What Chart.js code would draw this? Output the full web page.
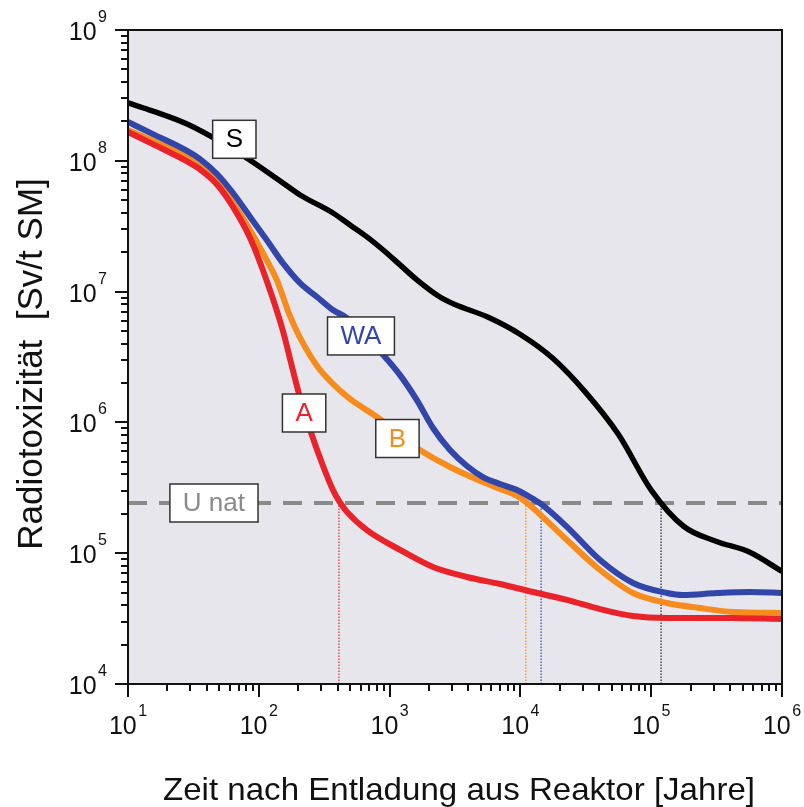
<!DOCTYPE html>
<html>
<head>
<meta charset="utf-8">
<script src="https://cdn.jsdelivr.net/npm/chart.js@4/dist/chart.umd.min.js"></script>
<style>
  html, body { margin: 0; padding: 0; background: #fff; }
</style>
</head>
<body>
<canvas id="chart" width="804" height="807"></canvas>
<script>
// Radiotoxizität abgebrannter Brennelemente (Sv/t SM) über die Zeit (Jahre)
const yearsS = [10, 15.5, 28.3, 56.2, 85.8, 153, 207, 369, 498, 671, 893, 1202, 1617, 2427, 3162, 5623, 10000, 17780, 31620, 56230, 100000, 177800, 316200, 562300, 1e6];
const toxS   = [2.77e8, 2.40e8, 1.91e8, 1.32e8, 1.01e8, 6.77e7, 5.48e7, 3.99e7, 3.23e7, 2.62e7, 2.08e7, 1.60e7, 1.23e7, 9.09e6, 7.96e6, 6.39e6, 4.70e6, 3.08e6, 1.69e6, 8.08e5, 3.04e5, 1.60e5, 1.23e5, 1.02e5, 7.25e4];

const yearsWA = [10, 15.5, 28.3, 35.5, 47.9, 63.5, 85.8, 115, 153, 207, 279, 369, 472, 893, 1202, 1617, 2147, 2895, 3904, 5178, 6983, 9416, 12480, 14360, 22700, 40640, 72610, 132100, 175000, 318000, 569000, 1e6];
const toxWA   = [1.98e8, 1.60e8, 1.19e8, 1.03e8, 7.93e7, 5.67e7, 3.72e7, 2.48e7, 1.65e7, 1.16e7, 9.09e6, 7.23e6, 6.28e6, 3.28e6, 2.30e6, 1.48e6, 9.06e5, 6.15e5, 4.64e5, 3.82e5, 3.38e5, 3.04e5, 2.60e5, 2.38e5, 1.59e5, 8.87e4, 5.92e4, 4.96e4, 4.79e4, 4.96e4, 5.05e4, 4.96e4];

const yearsB = [10, 15.5, 28.3, 35.5, 47.9, 63.5, 85.8, 115, 138, 173, 207, 279, 369, 498, 801, 1617, 2895, 5178, 6983, 9416, 11050, 22700, 40640, 72610, 132100, 236000, 421700, 1e6];
const toxB   = [1.72e8, 1.42e8, 1.07e8, 9.0e7, 7.0e7, 4.76e7, 2.96e7, 1.74e7, 1.21e7, 6.51e6, 4.42e6, 2.70e6, 1.97e6, 1.51e6, 1.10e6, 6.37e5, 4.56e5, 3.50e5, 3.10e5, 2.74e5, 2.46e5, 1.26e5, 7.44e4, 4.96e4, 4.16e4, 3.81e4, 3.55e4, 3.49e4];

const yearsA = [10, 15.5, 28.3, 35.5, 47.9, 63.5, 85.8, 115, 153, 182, 207, 247, 310, 369, 410, 472, 671, 1202, 2147, 3904, 6983, 12480, 22700, 40640, 72610, 132100, 421700, 1e6];
const toxA   = [1.66e8, 1.34e8, 9.9e7, 8.6e7, 6.6e7, 4.45e7, 2.57e7, 1.21e7, 5.00e6, 2.52e6, 1.54e6, 8.75e5, 4.64e5, 3.04e5, 2.51e5, 2.07e5, 1.50e5, 1.06e5, 7.84e4, 6.58e4, 5.81e4, 5.05e4, 4.39e4, 3.74e4, 3.31e4, 3.20e4, 3.20e4, 3.14e4];

// natürliches Uran als Referenzniveau und die Zeitpunkte, an denen es erreicht wird
const uNat = 2.42e5;
const crossA = 410, crossB = 11000, crossWA = 14400, crossS = 119000;

const xExponents = [1, 2, 3, 4, 5, 6];
const yExponents = [4, 5, 6, 7, 8, 9];

const FONT = '"Liberation Sans", Arial, Helvetica, sans-serif';
const RED = '#e9232a', ORANGE = '#f78c1e', BLUE = '#3246aa', GREY = '#8a8a8a';

function pts(xs, ys) {
  return xs.map((x, i) => ({ x: x, y: ys[i] }));
}

function curve(xs, ys, color, width) {
  return {
    data: pts(xs, ys),
    borderColor: color,
    borderWidth: width,
    pointRadius: 0,
    cubicInterpolationMode: 'monotone',
    borderCapStyle: 'butt',
    borderJoinStyle: 'round',
    fill: false
  };
}

function marker(year, color) {
  return {
    data: [{ x: year, y: 1e4 }, { x: year, y: uNat }],
    borderColor: color,
    borderWidth: 1.2,
    borderDash: [1.5, 1.5],
    pointRadius: 0,
    fill: false
  };
}

function drawPower(ctx, exp, x, y, align) {
  ctx.save();
  ctx.fillStyle = '#111';
  ctx.textBaseline = 'alphabetic';
  ctx.textAlign = 'left';
  ctx.font = '25px ' + FONT;
  const wBase = ctx.measureText('10').width;
  ctx.font = '16px ' + FONT;
  const wExp = ctx.measureText(String(exp)).width;
  const total = wBase + 1.5 + wExp;
  const left = align === 'center' ? x - total / 2 : x - total;
  ctx.font = '25px ' + FONT;
  ctx.fillText('10', left, y);
  ctx.font = '16px ' + FONT;
  ctx.fillText(String(exp), left + wBase + 1.5, y - 18);
  ctx.restore();
}

function drawBox(ctx, chart, text, xv, yv, color) {
  const sx = chart.scales.x, sy = chart.scales.y;
  const cx = sx.getPixelForValue(xv), cy = sy.getPixelForValue(yv);
  ctx.save();
  ctx.font = '26px ' + FONT;
  const w = ctx.measureText(text).width + 26;
  const h = 38;
  ctx.fillStyle = '#fff';
  ctx.fillRect(cx - w / 2, cy - h / 2, w, h);
  ctx.strokeStyle = '#333';
  ctx.lineWidth = 1.5;
  ctx.strokeRect(cx - w / 2, cy - h / 2, w, h);
  ctx.fillStyle = color;
  ctx.textAlign = 'center';
  ctx.textBaseline = 'middle';
  ctx.fillText(text, cx, cy + 1);
  ctx.restore();
}

const decor = {
  id: 'decor',
  beforeDraw(chart) {
    const { ctx, chartArea: a } = chart;
    ctx.save();
    ctx.fillStyle = '#fff';
    ctx.fillRect(0, 0, chart.width, chart.height);
    ctx.fillStyle = '#e6e6ec';
    ctx.fillRect(a.left, a.top, a.right - a.left, a.bottom - a.top);
    ctx.restore();
  },
  afterDatasetsDraw(chart) {
    const ctx = chart.ctx;
    drawBox(ctx, chart, 'S', 65, 1.46e8, '#000');
    drawBox(ctx, chart, 'WA', 604, 4.58e6, BLUE);
    drawBox(ctx, chart, 'A', 222, 1.18e6, RED);
    drawBox(ctx, chart, 'B', 1148, 7.53e5, ORANGE);
    drawBox(ctx, chart, 'U nat', 45.4, uNat, GREY);
  },
  afterDraw(chart) {
    const { ctx, chartArea: a } = chart;
    const sx = chart.scales.x, sy = chart.scales.y;
    ctx.save();
    // frame
    ctx.strokeStyle = '#111';
    ctx.lineWidth = 2;
    ctx.strokeRect(a.left, a.top, a.right - a.left, a.bottom - a.top);

    // ticks, long at the decades
    ctx.beginPath();
    for (let e = xExponents[0]; e <= xExponents[xExponents.length - 1]; e++) {
      for (let m = 1; m <= 9; m++) {
        if (e === xExponents[xExponents.length - 1] && m > 1) break;
        const px = Math.round(sx.getPixelForValue(m * Math.pow(10, e)));
        ctx.moveTo(px, a.bottom);
        ctx.lineTo(px, a.bottom + (m === 1 ? 13 : 7));
      }
    }
    for (let e = yExponents[0]; e <= yExponents[yExponents.length - 1]; e++) {
      for (let m = 1; m <= 9; m++) {
        if (e === yExponents[yExponents.length - 1] && m > 1) break;
        const py = Math.round(sy.getPixelForValue(m * Math.pow(10, e)));
        ctx.moveTo(a.left, py);
        ctx.lineTo(a.left - (m === 1 ? 13 : 7), py);
      }
    }
    ctx.stroke();

    // tick labels
    xExponents.forEach(e => drawPower(ctx, e, sx.getPixelForValue(Math.pow(10, e)), a.bottom + 50, 'center'));
    yExponents.forEach(e => drawPower(ctx, e, a.left - 21, sy.getPixelForValue(Math.pow(10, e)) + 10, 'right'));

    // axis titles
    ctx.fillStyle = '#111';
    ctx.textBaseline = 'alphabetic';
    ctx.textAlign = 'center';
    ctx.font = '32px ' + FONT;
    const xt = 'Zeit nach Entladung aus Reaktor [Jahre]';
    const xs = 592 / ctx.measureText(xt).width;
    ctx.save();
    ctx.translate(459, 800);
    ctx.scale(xs, 1);
    ctx.fillText(xt, 0, 0);
    ctx.restore();

    ctx.font = '35px ' + FONT;
    const yt = 'Radiotoxizität  [Sv/t SM]';
    ctx.save();
    ctx.translate(42, 364);
    ctx.rotate(-Math.PI / 2);
    ctx.fillText(yt, 0, 0);
    ctx.restore();
    ctx.restore();
  }
};

new Chart(document.getElementById('chart'), {
  type: 'line',
  data: {
    datasets: [
      curve(yearsS, toxS, '#000', 5.5),
      curve(yearsWA, toxWA, BLUE, 6),
      curve(yearsA, toxA, RED, 6),
      curve(yearsB, toxB, ORANGE, 6),
      {
        data: [{ x: 10, y: uNat }, { x: 1e6, y: uNat }],
        borderColor: GREY,
        borderWidth: 4,
        borderDash: [19, 12],
        pointRadius: 0,
        fill: false
      },
      marker(crossA, RED),
      marker(crossB, ORANGE),
      marker(crossWA, BLUE),
      marker(crossS, '#222')
    ]
  },
  options: {
    responsive: false,
    animation: false,
    devicePixelRatio: 1,
    layout: { padding: { top: 30, right: 22, left: 0, bottom: 0 } },
    plugins: { legend: { display: false }, tooltip: { enabled: false } },
    scales: {
      x: {
        type: 'logarithmic',
        min: 10,
        max: 1e6,
        ticks: { display: false },
        grid: { display: false },
        border: { display: false },
        afterFit(scale) { scale.height = 123; }
      },
      y: {
        type: 'logarithmic',
        min: 1e4,
        max: 1e9,
        ticks: { display: false },
        grid: { display: false },
        border: { display: false },
        afterFit(scale) { scale.width = 128; }
      }
    }
  },
  plugins: [decor]
});
</script>
</body>
</html>
